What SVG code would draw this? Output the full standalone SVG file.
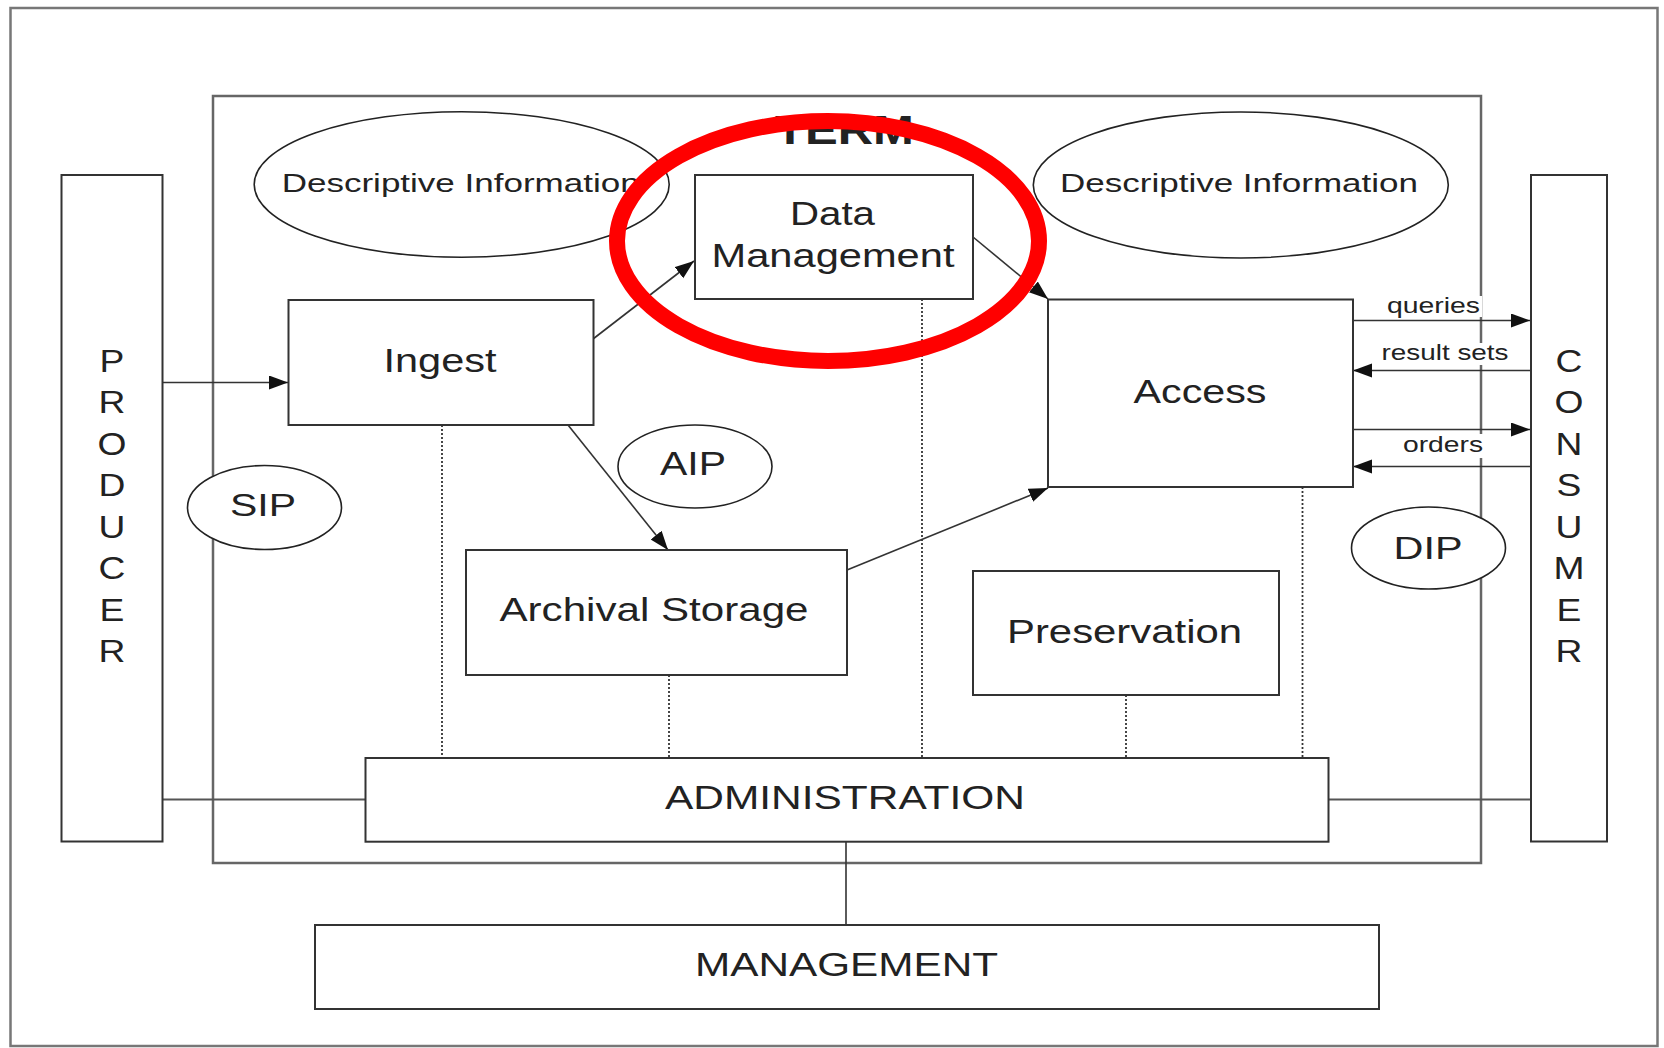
<svg xmlns="http://www.w3.org/2000/svg" width="1664" height="1048" viewBox="0 0 1664 1048">
<defs>
<style>
.t{font-family:"Liberation Sans",Arial,sans-serif;fill:#222;text-anchor:middle}
.box{fill:#fff;stroke:#333;stroke-width:2}
.ell{fill:#fff;stroke:#222;stroke-width:1.6}
.ln{fill:none;stroke:#333;stroke-width:1.6}
.gl{fill:none;stroke:#555;stroke-width:2}
.dot{fill:none;stroke:#333;stroke-width:1.8;stroke-dasharray:2 2}
.lbl{fill:#fff;stroke:none}
</style>
<marker id="ah" markerUnits="userSpaceOnUse" markerWidth="22" markerHeight="16" refX="19" refY="7" orient="auto">
<path d="M0,0 L19,7 L0,14 Z" fill="#111"/>
</marker>
</defs>
<rect width="1664" height="1048" fill="#fff"/>
<rect id="frame" x="10.5" y="8" width="1647" height="1038" fill="none" stroke="#777" stroke-width="2.5"/>

<g id="term">
<rect x="213" y="96" width="1268" height="767" fill="none" stroke="#666" stroke-width="2.5"/>
<text class="t" x="844.5" y="144" font-size="40" font-weight="bold" textLength="139" lengthAdjust="spacingAndGlyphs">TERM</text>
</g>

<g id="connectors">
<line class="gl" x1="162" y1="799.5" x2="365.5" y2="799.5"/>
<line class="gl" x1="1328.5" y1="799.5" x2="1531" y2="799.5"/>
<line class="ln" x1="846" y1="841.7" x2="846" y2="925"/>
<line class="dot" x1="442" y1="425" x2="442" y2="758"/>
<line class="dot" x1="669" y1="675" x2="669" y2="758"/>
<line class="dot" x1="922" y1="299" x2="922" y2="758"/>
<line class="dot" x1="1126" y1="695" x2="1126" y2="758"/>
<line class="dot" x1="1302.5" y1="487" x2="1302.5" y2="758"/>
<line class="ln" x1="162" y1="382.5" x2="288" y2="382.5" marker-end="url(#ah)"/>
<line class="ln" x1="593" y1="339" x2="694" y2="261" marker-end="url(#ah)"/>
<line class="ln" x1="973" y1="237" x2="1048" y2="299" marker-end="url(#ah)"/>
<line class="ln" x1="568" y1="425" x2="668" y2="550" marker-end="url(#ah)"/>
<line class="ln" x1="847" y1="570" x2="1048" y2="488" marker-end="url(#ah)"/>
<line class="ln" x1="1353" y1="320.5" x2="1530" y2="320.5" marker-end="url(#ah)"/>
<line class="ln" x1="1530" y1="370.5" x2="1353" y2="370.5" marker-end="url(#ah)"/>
<line class="ln" x1="1353" y1="429.5" x2="1530" y2="429.5" marker-end="url(#ah)"/>
<line class="ln" x1="1530" y1="466.5" x2="1353" y2="466.5" marker-end="url(#ah)"/>
<rect class="lbl" x="1386" y="296" width="96" height="21"/>
<text class="t" x="1433.5" y="313" font-size="22" textLength="93" lengthAdjust="spacingAndGlyphs">queries</text>
<rect class="lbl" x="1381" y="343" width="128" height="22"/>
<text class="t" x="1445" y="360" font-size="22" textLength="127" lengthAdjust="spacingAndGlyphs">result sets</text>
<rect class="lbl" x="1402" y="434" width="82" height="24"/>
<text class="t" x="1443" y="452" font-size="22" textLength="80" lengthAdjust="spacingAndGlyphs">orders</text>
</g>

<g id="producer">
<rect class="box" x="61.5" y="175" width="101" height="666.5"/>
<g transform="translate(112 0) scale(1.2 1)">
<text class="t" x="0" y="372" font-size="31">P</text>
<text class="t" x="0" y="413.5" font-size="31">R</text>
<text class="t" x="0" y="455" font-size="31">O</text>
<text class="t" x="0" y="496.5" font-size="31">D</text>
<text class="t" x="0" y="538" font-size="31">U</text>
<text class="t" x="0" y="579.5" font-size="31">C</text>
<text class="t" x="0" y="621" font-size="31">E</text>
<text class="t" x="0" y="662.5" font-size="31">R</text>
</g>
</g>

<g id="consumer">
<rect class="box" x="1531" y="175" width="76" height="666.5"/>
<g transform="translate(1569 0) scale(1.2 1)">
<text class="t" x="0" y="372" font-size="31">C</text>
<text class="t" x="0" y="413.5" font-size="31">O</text>
<text class="t" x="0" y="455" font-size="31">N</text>
<text class="t" x="0" y="496.5" font-size="31">S</text>
<text class="t" x="0" y="538" font-size="31">U</text>
<text class="t" x="0" y="579.5" font-size="31">M</text>
<text class="t" x="0" y="621" font-size="31">E</text>
<text class="t" x="0" y="662.5" font-size="31">R</text>
</g>
</g>

<g id="desc-left">
<ellipse class="ell" cx="461.7" cy="184.5" rx="207.5" ry="72.8"/>
<text class="t" x="460.7" y="191.7" font-size="26" textLength="358" lengthAdjust="spacingAndGlyphs">Descriptive Information</text>
</g>
<g id="desc-right">
<ellipse class="ell" cx="1240.8" cy="185" rx="207.5" ry="73"/>
<text class="t" x="1239" y="191.7" font-size="26" textLength="358" lengthAdjust="spacingAndGlyphs">Descriptive Information</text>
</g>

<g id="data-management">
<rect class="box" x="695" y="175" width="278" height="124"/>
<text class="t" x="832.5" y="225" font-size="33" textLength="85" lengthAdjust="spacingAndGlyphs">Data</text>
<text class="t" x="833" y="267" font-size="33" textLength="243" lengthAdjust="spacingAndGlyphs">Management</text>
</g>

<g id="ingest">
<rect class="box" x="288.5" y="300" width="305" height="125"/>
<text class="t" x="440" y="372" font-size="33" textLength="113" lengthAdjust="spacingAndGlyphs">Ingest</text>
</g>

<g id="access">
<rect class="box" x="1048" y="299.5" width="305" height="187.5"/>
<text class="t" x="1200" y="403" font-size="34" textLength="133" lengthAdjust="spacingAndGlyphs">Access</text>
</g>

<g id="aip">
<ellipse class="ell" cx="695" cy="466.5" rx="77" ry="41.5"/>
<text class="t" x="693" y="475" font-size="33" textLength="66" lengthAdjust="spacingAndGlyphs">AIP</text>
</g>
<g id="sip">
<ellipse class="ell" cx="264.5" cy="507.5" rx="77" ry="42"/>
<text class="t" x="263" y="516" font-size="32" textLength="66" lengthAdjust="spacingAndGlyphs">SIP</text>
</g>
<g id="dip">
<ellipse class="ell" cx="1428.5" cy="548" rx="77" ry="41"/>
<text class="t" x="1428" y="559" font-size="32" textLength="69" lengthAdjust="spacingAndGlyphs">DIP</text>
</g>

<g id="archival-storage">
<rect class="box" x="466" y="550" width="381" height="125"/>
<text class="t" x="654" y="621" font-size="33" textLength="309" lengthAdjust="spacingAndGlyphs">Archival Storage</text>
</g>

<g id="preservation">
<rect class="box" x="973" y="571" width="306" height="124"/>
<text class="t" x="1124.5" y="643" font-size="34" textLength="235" lengthAdjust="spacingAndGlyphs">Preservation</text>
</g>

<g id="administration">
<rect class="box" x="365.5" y="758" width="963" height="83.7"/>
<text class="t" x="845" y="809" font-size="33" textLength="360" lengthAdjust="spacingAndGlyphs">ADMINISTRATION</text>
</g>

<g id="management">
<rect class="box" x="315" y="925" width="1064" height="84"/>
<text class="t" x="846.6" y="976" font-size="33" textLength="303" lengthAdjust="spacingAndGlyphs">MANAGEMENT</text>
</g>

<ellipse id="highlight" cx="828" cy="241" rx="211" ry="120" fill="none" stroke="#ff0000" stroke-width="16"/>
</svg>
